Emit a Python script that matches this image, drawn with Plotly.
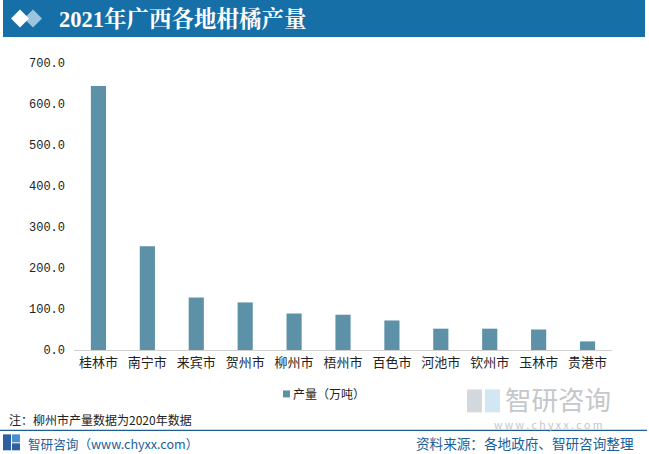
import plotly.graph_objects as go

cities = ["桂林市", "南宁市", "来宾市", "贺州市", "柳州市", "梧州市", "百色市", "河池市", "钦州市", "玉林市", "贵港市"]
output = [644, 253, 128, 116, 89, 86, 72, 52, 52, 50, 21]
y_ticks = [0, 100, 200, 300, 400, 500, 600, 700]
y_tick_text = ["0.0", "100.0", "200.0", "300.0", "400.0", "500.0", "600.0", "700.0"]
series_name = "产量（万吨）"

W, H = 649, 454
L, R, T, B = 74, 37, 63, 103.5
pw, ph = W - L - R, H - T - B

def px(x):
    return (x - L) / pw

def py(y):
    return (H - B - y) / ph

BAR_COLOR = "#5d91a8"

fig = go.Figure()
fig.add_trace(go.Bar(
    x=cities, y=output, name=series_name, showlegend=False,
    marker=dict(color=BAR_COLOR, line=dict(width=0)),
))

def rect(x0, y0, x1, y1, color, layer="above", opacity=1):
    return dict(type="rect", xref="paper", yref="paper",
                x0=px(x0), x1=px(x1), y0=py(y1), y1=py(y0),
                fillcolor=color, line=dict(width=0), layer=layer, opacity=opacity)

def diamond(cx, cy, r, color):
    return dict(type="path", xref="paper", yref="paper",
                path=f"M {px(cx-r)} {py(cy)} L {px(cx)} {py(cy-r)} L {px(cx+r)} {py(cy)} L {px(cx)} {py(cy+r)} Z",
                fillcolor=color, line=dict(width=0), layer="above")

shapes = [
    rect(3, 0, 645, 37, "#166fa7"),
    diamond(33, 18.5, 9, "#9ec3dc"),
    diamond(20, 18.5, 9, "#ffffff"),
    # legend marker
    rect(283, 391, 290, 398, BAR_COLOR),
    # footer separator
    dict(type="line", xref="paper", yref="paper", x0=px(0), x1=px(647), y0=py(431), y1=py(431),
         line=dict(color="#1f5f8f", width=1.2)),
    # footer logo
    rect(3, 435, 11, 451, "#2e5fa0"),
    rect(12, 435, 20, 443, "#4a8fd0"),
    rect(12, 444, 20, 451, "#2e5fa0"),
    # watermark logo
    rect(467, 390, 482, 413, "#d3d8df", layer="below"),
    rect(485, 390, 500, 413, "#d2e6f4", layer="below"),
]

annotations = [
    dict(text="<b>2021年广西各地柑橘产量</b>", xref="paper", yref="paper",
         x=px(57), y=py(18.5), xanchor="left", yanchor="middle", showarrow=False,
         font=dict(family="Liberation Serif, Noto Serif CJK SC, Noto Sans CJK SC", size=22.5, color="white")),
    dict(text=series_name, xref="paper", yref="paper",
         x=px(291), y=py(394.5), xanchor="left", yanchor="middle", showarrow=False,
         font=dict(family="Noto Sans CJK SC", size=12, color="#222222")),
    dict(text="注：柳州市产量数据为2020年数据", xref="paper", yref="paper",
         x=px(7), y=py(420), xanchor="left", yanchor="middle", showarrow=False,
         font=dict(family="Noto Sans CJK SC", size=12, color="#222222")),
    dict(text="智研咨询（www.chyxx.com）", xref="paper", yref="paper",
         x=px(26), y=py(444), xanchor="left", yanchor="middle", showarrow=False,
         font=dict(family="Noto Sans CJK SC", size=12.6, color="#1a5e9a")),
    dict(text="资料来源：各地政府、智研咨询整理", xref="paper", yref="paper",
         x=px(636), y=py(444), xanchor="right", yanchor="middle", showarrow=False,
         font=dict(family="Noto Sans CJK SC", size=13.6, color="#1a5e9a")),
    dict(text="智研咨询", xref="paper", yref="paper",
         x=px(503), y=py(399), xanchor="left", yanchor="middle", showarrow=False,
         font=dict(family="Noto Sans CJK SC", size=26.5, color="#c4c7cb")),
    dict(text="w w w . c h y x x . c o m", xref="paper", yref="paper",
         x=px(548), y=py(425.5), xanchor="center", yanchor="middle", showarrow=False,
         font=dict(family="Noto Sans CJK SC", size=10.5, color="#c2c5c9")),
]

fig.update_layout(
    width=W, height=H,
    margin=dict(l=L, r=R, t=T, b=B, autoexpand=False),
    paper_bgcolor="white", plot_bgcolor="white",
    bargap=0.69,
    showlegend=False,
    xaxis=dict(showline=True, linecolor="#d0d0d0", linewidth=1, ticks="",
               tickfont=dict(family="Noto Sans CJK SC", size=13, color="#222222"),
               showgrid=False),
    yaxis=dict(range=[0, 700], tickvals=y_ticks, ticktext=y_tick_text,
               showgrid=False, zeroline=False, showline=False, ticks="",
               ticklabelstandoff=8,
               tickfont=dict(family="Liberation Mono, Noto Sans CJK SC", size=12, color="#222222")),
    shapes=shapes,
    annotations=annotations,
)

fig.write_html("out.html", config={"displayModeBar": False},
               post_script="document.body.style.margin='0';document.body.style.padding='0';document.body.style.overflow='hidden';")
